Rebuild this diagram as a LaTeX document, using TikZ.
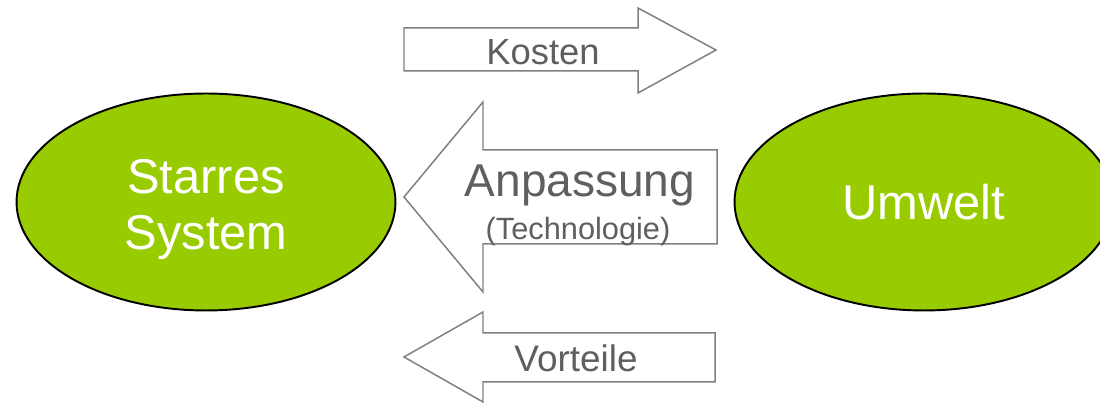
\documentclass[tikz,border=0pt]{standalone}
\usepackage{fontspec}
\setmainfont{Liberation Sans}
\usetikzlibrary{shapes.geometric}

\definecolor{blobgreen}{HTML}{99CC00}
\definecolor{arrowgrey}{HTML}{808080}
\definecolor{labelgrey}{HTML}{5F5F5F}

\tikzset{
  blob/.style={ellipse, draw=black, line width=1.1pt, fill=blobgreen,
    inner sep=0pt, minimum width=7.58cm, minimum height=4.34cm},
  blobtext/.style={text=white, align=center, inner sep=0pt,
    font=\fontsize{27.8}{31.9}\selectfont},
  blockarrow/.style={draw=arrowgrey, line width=0.85pt, fill=white, line join=miter},
  arrowtext/.style={text=labelgrey, anchor=base, inner sep=0pt}
}

\begin{document}
\begin{tikzpicture}[x=0.02cm, y=-0.02cm]
  \useasboundingbox (0,0) rectangle (1100,404);
  \clip (0,0) rectangle (1100,404);

  % die beiden Ellipsen
  \node[blob] (sys) at (206,202) {};
  \node[blob] (umw) at (924,202) {};
  \node[blobtext] (systxt) at ([yshift=-0.16cm]sys.center) {Starres\\System};
  \node[blobtext] (umwtxt) at (umw.center) {Umwelt};

  % Kosten: nach rechts
  \draw[blockarrow] (404,28) -- (638,28) -- (638,8) -- (716,50)
    -- (638,93) -- (638,71) -- (404,71) -- cycle;
  % Anpassung: grosser Pfeil nach links
  \draw[blockarrow] (717,150) -- (483,150) -- (483,102) -- (404,197)
    -- (483,292) -- (483,244) -- (717,244) -- cycle;
  % Vorteile: nach links
  \draw[blockarrow] (715,333) -- (483,333) -- (483,312) -- (404,357)
    -- (483,402) -- (483,382) -- (715,382) -- cycle;

  \node[arrowtext, font=\fontsize{20.7}{24}\selectfont] (kosten) at (543,65) {Kosten};
  \node[arrowtext, font=\fontsize{26.2}{30}\selectfont] (anp) at (580,197) {Anpassung};
  \node[arrowtext, font=\fontsize{17.5}{20}\selectfont] (tech) at (578,240) {(Technologie)};
  \node[arrowtext, font=\fontsize{21}{24}\selectfont] (vort) at (576,372) {Vorteile};
\end{tikzpicture}
\end{document}
